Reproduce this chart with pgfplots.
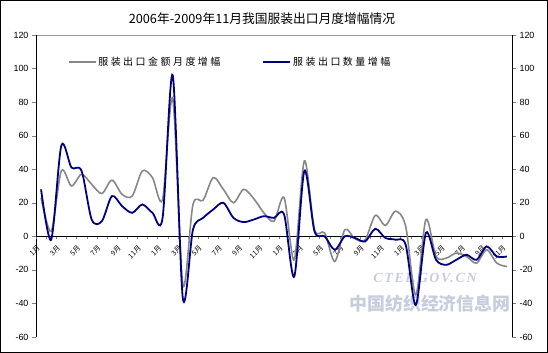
\documentclass[border=0pt]{standalone}
\usepackage{pgfplots}
\usepackage{pgfplotstable}
\pgfplotsset{compat=1.18}
\usepackage{fontspec}
\setmainfont{Liberation Sans}
\newfontfamily\cjk{Noto Sans CJK SC}
\newfontfamily\cjkls[LetterSpace=25]{Noto Sans CJK SC}
\newfontfamily\wmfont[LetterSpace=12]{Liberation Serif}
\definecolor{gline}{RGB}{135,135,135}
\definecolor{bline}{RGB}{0,0,128}
\definecolor{wm}{RGB}{200,205,222}

\pgfplotstableread{
x g b
0 23 28
1 3 -2
2 39 54
3 30 41
4 37 39
5 31 10
6 25.5 9
7 33.5 24
8 25 18
9 24 14
10 39 19
11 35 14
12 22 11
13 82 96
14 -29 -37
15 19 4
16 21.5 11
17 35 16
18 28 20
19 20 11
20 28 8.5
21 22.5 10
22 14 12
23 9 11
24 23 13
25 -14 -24
26 45 39
27 4 3
28 2 0
29 -15 -8
30 4 0
31 -1.5 -1
32 -2 -3
33 12.5 4.5
34 6.5 -1
35 15 -2
36 6 -5
37 -35 -41
38 10 2
39 -12 -14
40 -13 -17
41 -10 -14
42 -12 -11
43 -16 -14
44 -8 -6
45 -16 -12
46 -18 -12
}\datatable

\begin{document}
\begin{tikzpicture}
\useasboundingbox (-36bp,-16bp) rectangle (512bp,337bp);
\draw[black, line width=1bp] (-35.5bp,-15.5bp) rectangle (511.5bp,336.5bp);
% watermark
\node[text=wm, font=\wmfont\bfseries\itshape\fontsize{14}{14}\selectfont] at (389bp,59bp) {CTEI.GOV.CN};
\node[text=wm, font=\cjk\bfseries\fontsize{18}{18}\selectfont] at (394bp,33bp) {中国纺织经济信息网};
% title
\node[font=\cjk\fontsize{12.8}{12.8}\selectfont] at (226bp,318bp) {2006年-2009年11月我国服装出口月度增幅情况};

\begin{axis}[
  at={(0,0)}, anchor=south west,
  scale only axis, width=476bp, height=302bp,
  xmin=-0.5, xmax=46.5, ymin=-60, ymax=120,
  axis line style={draw=none},
  xtick=\empty,
  ytick={-60,-40,...,120},
  ytick pos=left,
  tick align=outside,
  major tick length=4bp,
  yticklabel style={font=\fontsize{9}{9}\selectfont},
  /pgf/number format/assume math mode=true,
]
\draw[gray!80] (rel axis cs:0,0) -- (rel axis cs:1,0);
\draw[gray!80] (rel axis cs:0,1) -- (rel axis cs:1,1);
\draw[black] (rel axis cs:0,0) -- (rel axis cs:0,1);
\end{axis}

\begin{axis}[
  at={(0,0)}, anchor=south west,
  scale only axis, width=476bp, height=302bp,
  xmin=-0.5, xmax=46.5, ymin=-60, ymax=120,
  axis x line=middle, axis y line=right,
  axis line style={-, black},
  ytick={-60,-40,...,120},
  tick align=outside,
  major tick length=4bp,
  minor tick length=3bp,
  yticklabel style={font=\fontsize{9}{9}\selectfont},
  /pgf/number format/assume math mode=true,
  xtick={0,2,...,46},
  xticklabels={1月,3月,5月,7月,9月,11月,1月,3月,5月,7月,9月,11月,1月,3月,5月,7月,9月,11月,1月,3月,5月,7月,9月,11月},
  every major x tick/.append style={draw=none},
  minor xtick={-0.5,0.5,...,46.5},
  xticklabel style={rotate=45, anchor=east, inner sep=0.5bp, font=\cjk\fontsize{7}{7}\selectfont, xshift=-6bp, yshift=-3bp},
  legend style={at={(rel axis cs:0.06,0.91)}, anchor=west, draw=none, fill=none,
    legend columns=2, font=\cjkls\fontsize{10}{10}\selectfont,
    /tikz/every even column/.append style={column sep=40bp}},
  legend image code/.code={\draw[#1] (0bp,0bp) -- (27bp,0bp);},
]
\addplot[gline, line width=1.6bp, smooth, tension=0.5] table[x=x, y=g] {\datatable};
\addlegendentry{服装出口金额月度增幅}
\addplot[bline, line width=1.8bp, smooth, tension=0.5] table[x=x, y=b] {\datatable};
\addlegendentry{服装出口数量增幅}
\end{axis}
\end{tikzpicture}
\end{document}
